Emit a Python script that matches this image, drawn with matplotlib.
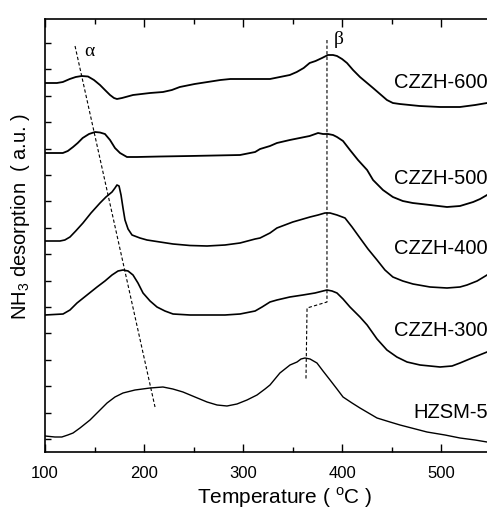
import matplotlib
matplotlib.use("Agg")
import matplotlib.pyplot as plt

plt.rcParams['font.family'] = ['Liberation Sans', 'DejaVu Sans']
plt.rcParams['mathtext.fontset'] = 'custom'
plt.rcParams['mathtext.rm'] = 'Liberation Sans'

# Temperature (°C) and NH3 desorption intensity (a.u., stacked offsets)
t600 = [100, 112, 118, 125, 131, 137, 143.4, 149.4, 155.5, 160.5, 165.6, 169.6, 172.6, 177.7, 188.8, 206,
        219, 228, 236, 251, 264, 277, 287, 307, 327, 337, 347, 354, 361, 367, 373, 379.5, 385.5, 390.6,
        394.6, 399.7, 404.7, 410.8, 417.8, 425, 431, 438, 445, 451, 458, 478, 498.6, 518.7, 534, 546]
y600 = [369, 369, 370, 373, 375, 376, 375.5, 372, 367, 362, 357, 354, 353, 354, 357, 359,
        360, 362, 365, 368, 370, 372, 373, 373, 373, 375, 377, 380, 384, 389, 391, 394, 397, 397,
        396, 393, 389, 382, 375, 369, 364, 358, 352, 349, 348, 346, 345, 345, 347, 349]

t500 = [100, 118, 123, 128.3, 133, 138, 144.4, 150.5, 155.5, 160.5, 165.6, 170.6, 175.7, 182.7, 192.8,
        216, 246, 271.5, 296.8, 312, 317, 327, 334, 347, 357, 367, 375.5, 380.5, 385.5, 390.6, 394.6,
        400.7, 407.7, 415.8, 425, 431, 441, 451, 461, 471, 488.5, 505.6, 518.7, 532, 539, 546]
y500 = [299, 299, 301, 305, 309, 314, 318, 320, 319.5, 318, 312, 304, 299, 295, 295,
        295.5, 296, 296.5, 297, 300, 303, 306, 309, 312, 314, 316, 319, 318, 318, 317, 315,
        311, 302, 292, 282, 272, 262, 255, 251, 249, 247, 245, 246, 250, 253, 257]

t400 = [100, 115.1, 120, 125.2, 131, 138.3, 146.4, 155.5, 161.5, 167.6, 170.6, 172.6, 174.7, 176.7,
        178.7, 180.7, 183.8, 187.8, 195.8, 202.9, 216, 229.2, 246.3, 263.5, 281.6, 296.8, 312, 317,
        327, 334, 342, 350, 367.4, 375.5, 382.5, 387.6, 394.6, 402.7, 409.8, 417.8, 425.9, 435, 443,
        451, 461, 471.3, 488.5, 505.6, 518.7, 525.8, 536, 546]
y400 = [211, 211, 212, 215, 221, 229, 239, 249, 255, 260, 264, 267, 266, 257,
        244, 232, 223, 217, 214, 212, 210, 208, 206.5, 206, 207, 209, 213, 214,
        219, 224, 227, 230, 235, 237, 239, 239, 237, 234, 225, 214, 203, 192, 182,
        175, 171, 168, 165, 164, 165, 167, 171, 177]

t300 = [100, 118.2, 125.2, 132.3, 142.4, 152.5, 160.5, 167.6, 173.7, 178.7, 183.8, 188.8, 193.8,
        198.9, 206, 213, 221, 229.2, 246.3, 263.5, 281.6, 296.8, 312, 319, 327, 334, 347, 360.3,
        372.4, 384.5, 389.6, 394.6, 400.7, 407.7, 417.8, 425, 435, 445, 455, 465.3, 478.4, 498.6,
        510.7, 518.7, 530.8, 546]
y300 = [137, 138, 142, 149, 157, 165, 171, 177, 181, 182, 181, 177, 169,
        159, 151, 145, 141, 138, 137, 137, 137, 138, 141, 145, 150, 152, 155, 157,
        159, 162, 161, 159, 153, 145, 135, 127, 113, 102, 95, 90, 87, 85,
        86, 89, 94, 100]

th = [100, 110, 117, 123, 128.3, 135.3, 145.4, 153.5, 162.6, 170.6, 178.7, 190.8, 206, 219, 229,
      239.2, 251.3, 263.5, 273.6, 283.6, 293.7, 303.8, 313.9, 322, 327, 337, 347.2, 354.3, 358.3,
      362.3, 367.4, 374.4, 380.5, 387.6, 394.6, 400.7, 409.8, 417.8, 435, 448.1, 458.2, 485.4,
      503.6, 518.7, 533.9, 546]
yh = [16, 15, 15, 17, 19, 24, 32, 40, 49, 55, 59, 62, 64, 65, 63,
      60, 55, 50, 47, 46, 48, 52, 57, 63, 67, 79, 87, 90, 93,
      94, 93, 89, 81, 72, 63, 55, 49, 44, 34, 30, 27, 20,
      17, 14, 12, 10]

labels = ['CZZH-600', 'CZZH-500', 'CZZH-400', 'CZZH-300', 'HZSM-5']
label_y = [369, 274, 203, 122, 39]

alpha_line_t = [130.3, 211.0]
alpha_line_y = [406, 45]
beta_line_t = [384.5, 384.5, 364.4, 363.3]
beta_line_y = [412, 150, 144, 72]

fig = plt.figure(figsize=(4.87, 5.09), dpi=100)
ax = fig.add_axes([45/487, 1-452/509, 446/487, 433/509])

for t, y, lw in [(t600, y600, 1.3), (t500, y500, 1.3), (t400, y400, 1.2), (t300, y300, 1.2), (th, yh, 1.0)]:
    ax.plot(t, y, color='black', lw=lw)

ax.plot(alpha_line_t, alpha_line_y, color='black', lw=0.8, ls=(0, (3, 2)))
ax.plot(beta_line_t, beta_line_y, color='black', lw=0.8, ls=(0, (3, 2)))

ax.text(144.4, 400, 'α', fontsize=14, ha='center', va='center', family=['Liberation Serif', 'DejaVu Serif'])
ax.text(396.6, 413, 'β', fontsize=14, ha='center', va='center', family=['Liberation Serif', 'DejaVu Serif'])

for lab, ly in zip(labels, label_y):
    ax.text(546.5, ly, lab, fontsize=14.5, ha='right', va='center', clip_on=False)

ax.set_xlim(100, 550)
ax.set_ylim(0, 433)
ax.set_xticks([100, 200, 300, 400, 500])
ax.set_xticks([150, 250, 350, 450, 550], minor=True)
yt = [13 + 26.4 * i for i in range(16)]
ax.set_yticks([])
ax.set_yticks(yt, minor=True)
ax.tick_params(axis='x', which='major', direction='in', length=6, width=1, top=True, labelsize=12, pad=10)
ax.tick_params(axis='x', which='minor', direction='in', length=3.5, width=1, top=True)
ax.tick_params(axis='y', which='minor', direction='in', length=4, width=1, left=True, right=False)
ax.spines['right'].set_visible(False)
for s in ['left', 'top', 'bottom']:
    ax.spines[s].set_linewidth(1.2)

ax.set_xlabel(r'Temperature ( $^{\mathregular{o}}$C )', fontsize=15)
ax.xaxis.label.set_va('center')
ax.xaxis.set_label_coords(0.538, -0.106)
ax.set_ylabel(r'NH$_3$ desorption  ( a.u. )', fontsize=14.5)
ax.yaxis.label.set_va('center')
ax.yaxis.set_label_coords(-0.054, 0.543)

fig.savefig('out.png', dpi=100)
